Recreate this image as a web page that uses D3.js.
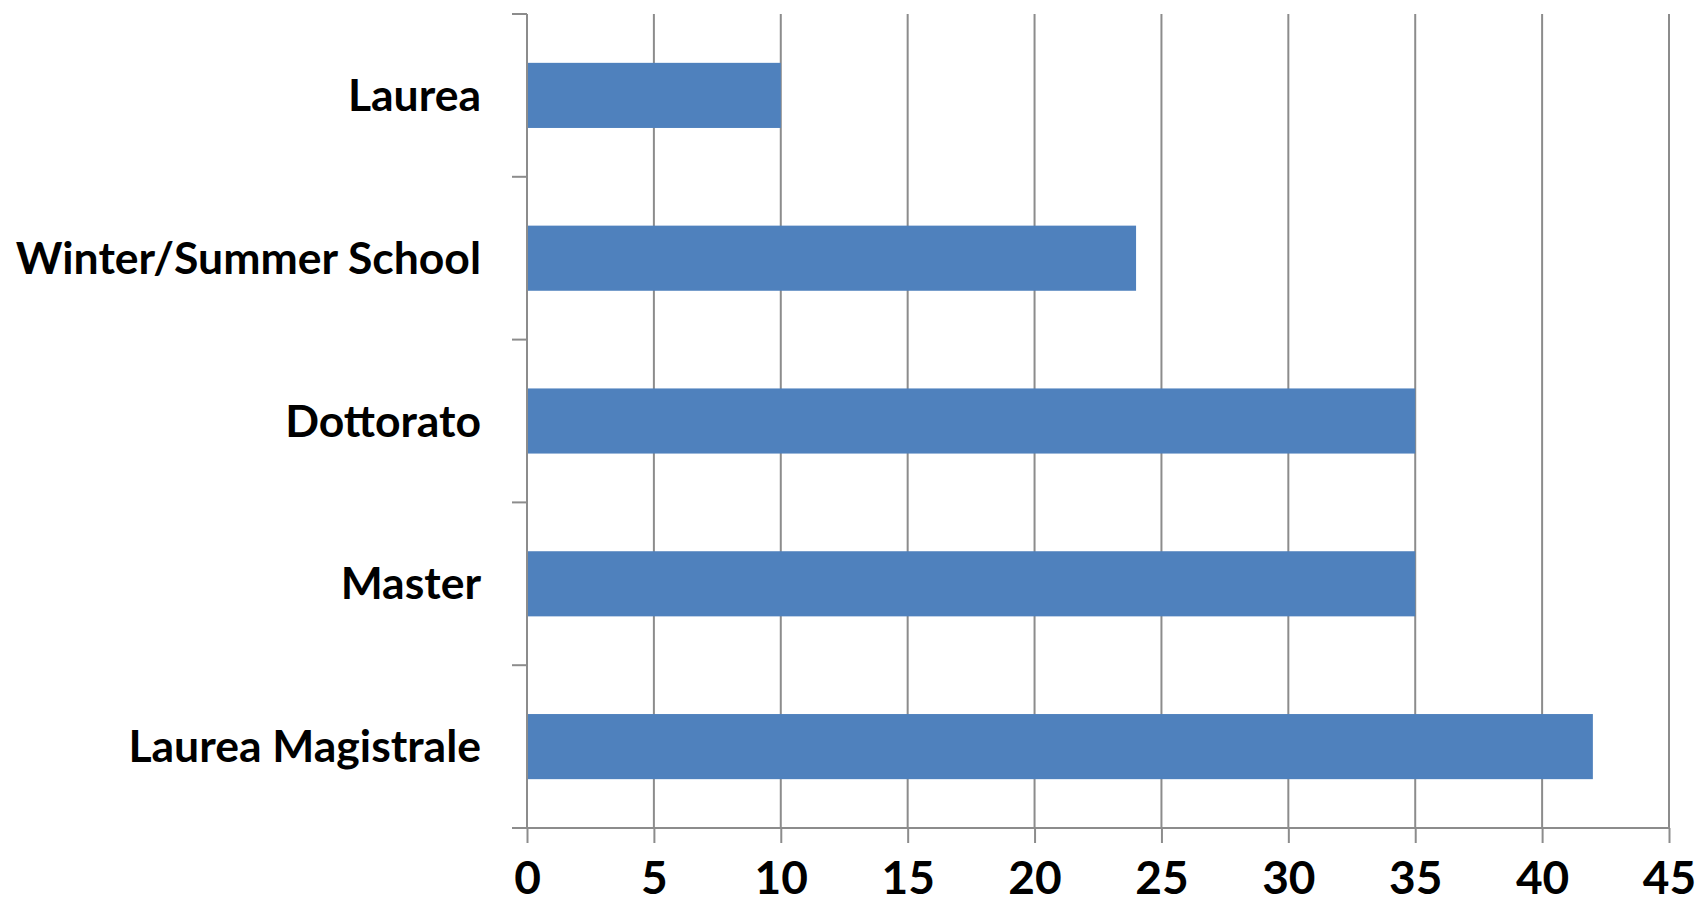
<!DOCTYPE html>
<html>
<head>
<meta charset="utf-8">
<script src="https://cdn.jsdelivr.net/npm/d3@7"></script>
<style>
  html, body { margin: 0; padding: 0; background: #fff; }
  svg { display: block; }
  text { font-family: Lato, "Open Sans", sans-serif; font-weight: bold; fill: #000; }
</style>
</head>
<body>
<svg id="chart" width="1698" height="909"></svg>
<script>
const categories = ['Laurea', 'Winter/Summer School', 'Dottorato', 'Master', 'Laurea Magistrale'];
const values = [10, 24, 35, 35, 42];
const xTicks = [0, 5, 10, 15, 20, 25, 30, 35, 40, 45];

const W = 1698, H = 909;
const m = { top: 14, right: 29, bottom: 81, left: 527 };
const w = W - m.left - m.right;
const h = H - m.top - m.bottom;

const svg = d3.select('#chart');
const g = svg.append('g').attr('transform', `translate(${m.left},${m.top})`);

const x = d3.scaleLinear().domain([0, 45]).range([0, w]);
const y = d3.scaleBand().domain(categories).range([0, h]).paddingInner(0.6).paddingOuter(0.3);
const band = h / categories.length;

// vertical gridlines
g.selectAll('line.grid').data(xTicks.slice(1)).join('line')
  .attr('class', 'grid')
  .attr('x1', d => x(d)).attr('x2', d => x(d))
  .attr('y1', 0).attr('y2', h)
  .attr('stroke', '#8c8c8c').attr('stroke-width', 2);

// bars
g.selectAll('rect').data(categories).join('rect')
  .attr('x', 0)
  .attr('y', d => y(d))
  .attr('width', (d, i) => x(values[i]))
  .attr('height', y.bandwidth())
  .attr('fill', '#4f81bd');

// y axis with ticks at band boundaries
const yb = d3.range(categories.length + 1).map(i => i * band);
g.append('line').attr('x1', 0).attr('x2', 0).attr('y1', 0).attr('y2', h)
  .attr('stroke', '#8c8c8c').attr('stroke-width', 2);
g.selectAll('line.ytick').data(yb).join('line')
  .attr('class', 'ytick')
  .attr('x1', -15).attr('x2', 0)
  .attr('y1', d => d).attr('y2', d => d)
  .attr('stroke', '#8c8c8c').attr('stroke-width', 2);

// x axis
const xAxis = g.append('g').attr('transform', `translate(0,${h})`)
  .call(d3.axisBottom(x).tickValues(xTicks).tickSize(15).tickPadding(18));
xAxis.select('.domain').attr('d', `M0,0H${w}`).attr('stroke', '#8c8c8c').attr('stroke-width', 2);
xAxis.selectAll('.tick line').attr('stroke', '#8c8c8c').attr('stroke-width', 2);
xAxis.selectAll('.tick text').attr('font-size', 46).attr('font-family', 'Lato, "Open Sans", sans-serif')
  .attr('font-weight', 'bold').attr('fill', '#000');
g.append('line').attr('x1', -15).attr('x2', 0).attr('y1', h).attr('y2', h)
  .attr('stroke', '#8c8c8c').attr('stroke-width', 2);

// category labels
g.selectAll('text.cat').data(categories).join('text')
  .attr('class', 'cat')
  .attr('x', -46)
  .attr('y', d => y(d) + y.bandwidth() / 2)
  .attr('dy', '0.35em')
  .attr('text-anchor', 'end')
  .attr('font-size', 44.5)
  .text(d => d);
</script>
</body>
</html>
